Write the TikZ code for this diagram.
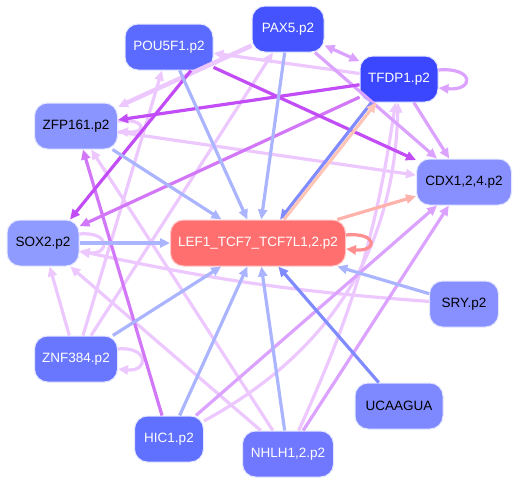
\documentclass[tikz,border=0pt]{standalone}
\usepackage{fontspec}
\setmainfont{Liberation Sans}
\usetikzlibrary{arrows.meta}
\definecolor{boxrim}{HTML}{E4E7FF}
\definecolor{lefred}{HTML}{FF6F6F}
\definecolor{poublue}{HTML}{5B6BFF}
\definecolor{paxblue}{HTML}{4553FF}
\definecolor{tfdpblue}{HTML}{3A47FF}
\definecolor{zfpblue}{HTML}{8B95FF}
\definecolor{cdxblue}{HTML}{8890FF}
\definecolor{soxblue}{HTML}{8F9BFF}
\definecolor{srylblue}{HTML}{8890FF}
\definecolor{znfblue}{HTML}{6977FF}
\definecolor{ucablue}{HTML}{7F89FF}
\definecolor{hicblue}{HTML}{6070FF}
\definecolor{nhlhblue}{HTML}{7078FF}
\definecolor{edgeblue}{HTML}{AAB4FF}
\definecolor{edgedeep}{HTML}{7F8BFF}
\definecolor{edgesalmon}{HTML}{FFB2AA}
\definecolor{edgepeach}{HTML}{FFC6B8}
\definecolor{edgeloopred}{HTML}{FF8E8E}
\definecolor{edgelav}{HTML}{ECC8FF}
\definecolor{edgepurple}{HTML}{DCA2FF}
\definecolor{edgeorchid}{HTML}{D277F7}
\definecolor{edgemagenta}{HTML}{C24CF6}

\begin{document}
\begin{tikzpicture}[
    x=1pt, y=-1pt,
    >={Triangle[length=10pt,width=9pt]},
    gene/.style={draw=boxrim, line width=1pt, rounded corners=13pt, minimum height=46pt,
      inner sep=0pt, font=\fontsize{13.5}{15}\selectfont},
    dark/.style={gene, text=white},
    lite/.style={gene, text=black},
    wire/.style={->, line width=3.2pt},
    bl/.style={wire, draw=edgeblue},
    bm/.style={wire, draw=edgedeep},
    sal/.style={wire, draw=edgesalmon},
    lv/.style={wire, draw=edgelav},
    pu/.style={wire, draw=edgepurple},
    orc/.style={wire, draw=edgeorchid},
    mg/.style={wire, draw=edgemagenta}
  ]
    \useasboundingbox (0,0) rectangle (519,485);

    % genes
    \node[dark, fill=poublue, minimum width=88pt] (POU5F1) at (169,47) {POU5F1.p2};
    \node[dark, fill=paxblue, minimum width=72pt] (PAX5) at (288,29) {PAX5.p2};
    \node[dark, fill=tfdpblue, minimum width=78pt] (TFDP1) at (399,79) {TFDP1.p2};
    \node[lite, fill=zfpblue, minimum width=83pt] (ZFP161) at (76,126) {ZFP161.p2};
    \node[lite, fill=cdxblue, minimum width=95pt] (CDX) at (464,182) {CDX1,2,4.p2};
    \node[lite, fill=soxblue, minimum width=72pt] (SOX2) at (43,243) {SOX2.p2};
    \node[dark, fill=lefred, draw=lefred!40!white, minimum width=175pt] (LEF1) at (258,243) {LEF1\_TCF7\_TCF7L1,2.p2};
    \node[lite, fill=srylblue, minimum width=69pt] (SRY) at (464,304) {SRY.p2};
    \node[dark, fill=znfblue, minimum width=83pt] (ZNF384) at (76,359) {ZNF384.p2};
    \node[lite, fill=ucablue, minimum width=88pt] (UCAAGUA) at (399,406) {UCAAGUA};
    \node[dark, fill=hicblue, minimum width=69pt] (HIC1) at (169,439) {HIC1.p2};
    \node[dark, fill=nhlhblue, minimum width=91pt] (NHLH1) at (288,454) {NHLH1,2.p2};

    % lavender links
    \draw[lv] (TFDP1) -- (POU5F1);
    \draw[lv, line width=4.5pt] (PAX5) -- (ZFP161);
    \draw[lv] (ZFP161) -- (CDX);
    \draw[lv] (SRY) to[bend left=4] (SOX2);
    \draw[lv] (ZNF384) -- (SOX2);
    \draw[lv] (ZNF384) -- (POU5F1);
    \draw[lv] (ZNF384) -- (PAX5);
    \draw[lv] (NHLH1) -- (SOX2);
    \draw[lv] (NHLH1) -- (ZFP161);
    \draw[lv] (HIC1) to[bend right=30] (TFDP1);
    \draw[lv] (NHLH1) to[bend right=8] (TFDP1);
    \draw[lv] ([yshift=5pt]ZFP161.east) .. controls +(29,-3) and +(29,3) .. ([yshift=-5pt]ZFP161.east);
    \draw[lv] ([yshift=9pt]SOX2.east) .. controls +(31,-3) and +(31,3) .. ([yshift=-9pt]SOX2.east);
    \draw[lv] ([yshift=10pt]ZNF384.east) .. controls +(31,-3) and +(31,3) .. ([yshift=-10pt]ZNF384.east);

    % purple links
    \draw[pu, <->] (PAX5) -- (TFDP1);
    \draw[pu] (TFDP1) -- (CDX);
    \draw[pu] (PAX5) -- (CDX);
    \draw[pu] (HIC1) -- (CDX);
    \draw[pu] (NHLH1) -- (CDX);
    \draw[pu] ([yshift=9pt]TFDP1.east) .. controls +(36,-3) and +(36,3) .. ([yshift=-9pt]TFDP1.east);
    \draw[orc] (TFDP1) -- (SOX2);
    \draw[orc] (HIC1) -- (ZFP161);
    \draw[mg] (POU5F1) -- (CDX);
    \draw[mg] (TFDP1) -- (ZFP161);
    \draw[mg] ([xshift=22pt]POU5F1.south) -- ([xshift=27pt]SOX2.north);

    % links into LEF1
    \foreach \src in {POU5F1,PAX5,ZFP161,SOX2,ZNF384,HIC1,NHLH1,SRY}
      \draw[bl] (\src) -- (LEF1);
    \draw[bm] (UCAAGUA) -- (LEF1);
    \draw[bm] ([xshift=12pt]TFDP1.south west) -- ([xshift=22pt]LEF1.north);
    \draw[sal, draw=edgepeach] ([xshift=26pt]LEF1.north) -- ([xshift=17pt]TFDP1.south west);
    \draw[sal] (LEF1) -- (CDX);
    \draw[sal, draw=edgeloopred] ([yshift=8pt]LEF1.east) .. controls +(32,-3) and +(32,3) .. ([yshift=-6pt]LEF1.east);
  \end{tikzpicture}
\end{document}
